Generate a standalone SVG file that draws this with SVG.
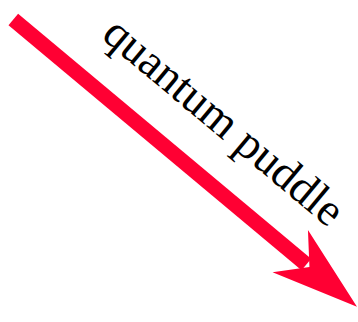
<svg xmlns="http://www.w3.org/2000/svg" width="358" height="322" viewBox="0 0 358 322">
<style>
.lbl{font-family:"Liberation Serif","Times New Roman",serif;font-size:46px;fill:#000}
.shaft{stroke:#ff0033;stroke-width:15;fill:none}
.head{fill:#ff0033}
</style>
<rect width="358" height="322" fill="#fff"/>
<g id="connectors" transform="translate(13.3,19.5) rotate(39.9)">
<line class="shaft" x1="0" y1="0" x2="382" y2="0"/>
<polygon class="head" points="448,0 361,-27.6 386,0 361,27.6"/>
<text class="lbl" x="227" y="-42" text-anchor="middle">quantum puddle</text>
</g>
</svg>
